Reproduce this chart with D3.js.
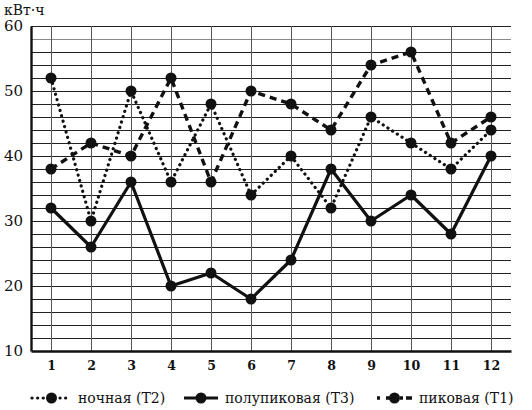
<!DOCTYPE html>
<html>
<head>
<meta charset="utf-8">
<script src="https://cdn.jsdelivr.net/npm/d3@7"></script>
<style>
  body { margin: 0; background: #fff; }
  svg { display: block; font-family: "DejaVu Serif", "Liberation Serif", serif; }
  .grid line { shape-rendering: crispEdges; }
  .grid path { display: none; }
</style>
</head>
<body>
<svg width="532" height="410"></svg>
<script>
var months = [1, 2, 3, 4, 5, 6, 7, 8, 9, 10, 11, 12];
var night = [52, 30, 50, 36, 48, 34, 40, 32, 46, 42, 38, 44];     // ночная (Т2)
var semiPeak = [32, 26, 36, 20, 22, 18, 24, 38, 30, 34, 28, 40];  // полупиковая (Т3)
var peak = [38, 42, 40, 52, 36, 50, 48, 44, 54, 56, 42, 46];      // пиковая (Т1)
var yTicks = [10, 20, 30, 40, 50, 60];
var unitLabel = "кВт·ч";
var seriesNames = ["ночная (Т2)", "полупиковая (Т3)", "пиковая (Т1)"];

var svg = d3.select("svg"),
    margin = { top: 26, right: 21, bottom: 59, left: 31 },
    width = +svg.attr("width") - margin.left - margin.right,
    height = +svg.attr("height") - margin.top - margin.bottom;

var x = d3.scaleLinear().domain([0.5, 12.5]).range([margin.left, margin.left + width]);
var y = d3.scaleLinear().domain([10, 60]).range([margin.top + height, margin.top]);

// horizontal grid, every 2 units
svg.append("g").attr("class", "grid")
  .attr("transform", "translate(" + margin.left + ",0)")
  .call(d3.axisRight(y).tickValues(d3.range(12, 61, 2)).tickSize(width).tickFormat(""))
  .selectAll("line")
  .attr("stroke", function (d) { return d === 58 ? "#8a8a8a" : "#222"; })
  .attr("stroke-width", function (d) { return d % 10 === 0 ? 1.6 : 1.1; });

// vertical grid at months
svg.append("g").attr("class", "grid")
  .attr("transform", "translate(0," + margin.top + ")")
  .call(d3.axisBottom(x).tickValues(months).tickSize(height).tickFormat(""))
  .selectAll("line")
  .attr("stroke", "#555")
  .attr("stroke-width", 1);

// axes
var xAxis = svg.append("g")
  .attr("transform", "translate(0," + (margin.top + height) + ")")
  .call(d3.axisBottom(x).tickValues(months).tickSize(0).tickPadding(10));
xAxis.select(".domain").attr("stroke", "#111").attr("stroke-width", 2.4);
xAxis.selectAll("text")
  .attr("font-size", 12.5).attr("font-weight", "bold").attr("fill", "#111")
  .attr("font-family", "DejaVu Serif, serif");

var yAxis = svg.append("g")
  .attr("transform", "translate(" + margin.left + ",0)")
  .call(d3.axisLeft(y).tickValues(yTicks).tickSize(0).tickPadding(8));
yAxis.select(".domain").attr("stroke", "#111").attr("stroke-width", 2.4);
yAxis.selectAll("text")
  .attr("font-size", 15).attr("fill", "#111")
  .attr("font-family", "DejaVu Serif, serif");

svg.append("text")
  .attr("x", 4).attr("y", 15)
  .attr("font-size", 14).attr("fill", "#111")
  .text(unitLabel);

var series = [
  { name: seriesNames[0], values: night, dash: "0.1,5.5", cap: "round", w: 3.2 },
  { name: seriesNames[1], values: semiPeak, dash: null, cap: "butt", w: 3.2 },
  { name: seriesNames[2], values: peak, dash: "7,5", cap: "butt", w: 3.4 }
];

var line = d3.line()
  .x(function (d, i) { return x(months[i]); })
  .y(function (d) { return y(d); });

series.forEach(function (s) {
  svg.append("path")
    .datum(s.values)
    .attr("fill", "none")
    .attr("stroke", "#111")
    .attr("stroke-width", s.w)
    .attr("stroke-linecap", s.cap)
    .attr("stroke-linejoin", "round")
    .attr("stroke-dasharray", s.dash)
    .attr("d", line);
});

series.forEach(function (s) {
  svg.append("g").selectAll("circle")
    .data(s.values)
    .enter()
    .append("circle")
    .attr("cx", function (d, i) { return x(months[i]); })
    .attr("cy", function (d) { return y(d); })
    .attr("r", 5.5)
    .attr("fill", "#111");
});

// legend
var legendX = [32, 184, 377],
    legendW = [39, 34, 35],
    legendY = 398;
var legend = svg.append("g");
series.forEach(function (s, i) {
  var gi = legend.append("g").attr("transform", "translate(" + legendX[i] + "," + legendY + ")");
  gi.append("line")
    .attr("x1", 0).attr("x2", legendW[i])
    .attr("stroke", "#111")
    .attr("stroke-width", s.w)
    .attr("stroke-linecap", s.cap)
    .attr("stroke-dasharray", i === 2 ? "3,6,8,6,3" : s.dash);
  gi.append("circle").attr("cx", legendW[i] / 2).attr("r", 5.5).attr("fill", "#111");
  gi.append("text")
    .attr("x", legendW[i] + 7).attr("dy", "0.35em")
    .attr("font-size", 14).attr("fill", "#111")
    .text(s.name);
});
</script>
</body>
</html>
